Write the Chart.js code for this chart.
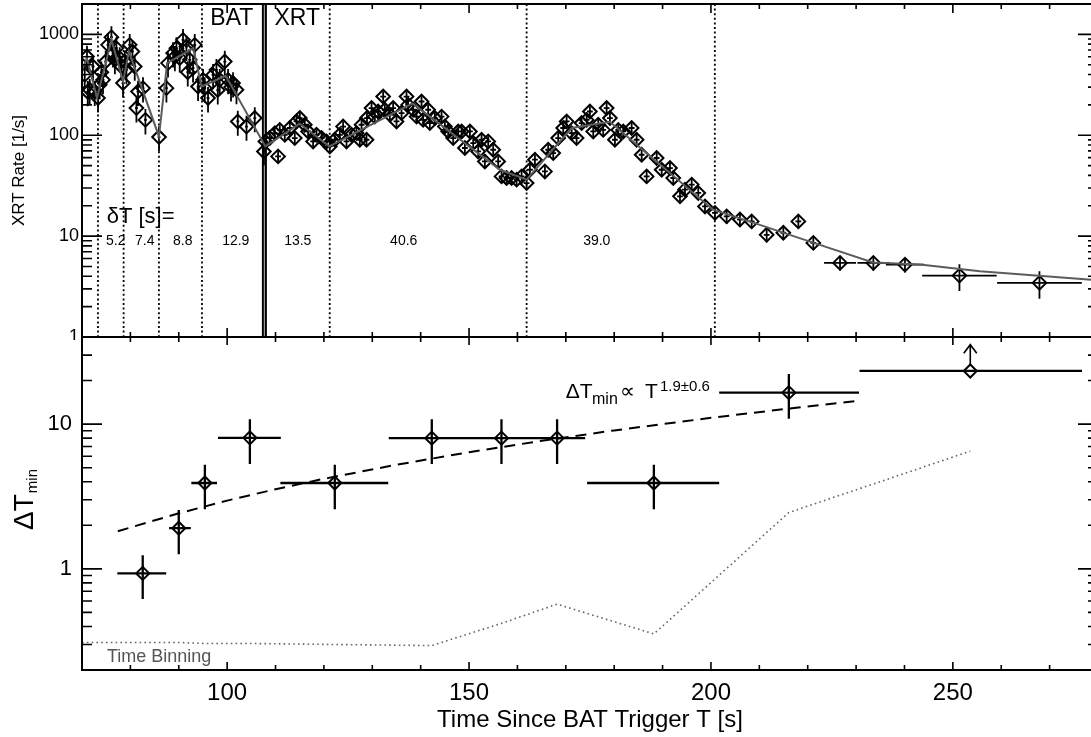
<!DOCTYPE html>
<html><head><meta charset="utf-8">
<script src="https://cdn.jsdelivr.net/npm/chart.js@4.4.1/dist/chart.umd.min.js"></script>
<style>
html,body{margin:0;padding:0;background:#fff;overflow:hidden;width:1091px;height:737px;}
#wrap{position:relative;width:1091px;height:737px;overflow:hidden;background:#fff;}
canvas{position:absolute;left:0;}
#c1{top:0}
#c2{top:330px}
</style></head><body>
<div id="wrap">
<canvas id="c1" width="1100" height="340" style="width:1100px;height:340px"></canvas>
<canvas id="c2" width="1100" height="407" style="width:1100px;height:407px"></canvas>
</div>
<script>
// ---------------- DATA ----------------
// Top panel: XRT/BAT light curve (T [s], rate [1/s], 1-sigma error)
const batT = [70.56,71.03,71.18,71.59,72.27,72.63,73.31,73.66,74.0,74.34,74.9,75.38,76.08,76.41,76.8,77.11,77.8,78.15,78.48,78.83,79.18,79.86,80.42,80.9,81.25,81.58,82.61,83.11,85.92,87.45,87.78,88.82,89.2,89.52,90.2,90.88,91.59,91.86,92.27,92.95,93.3,93.99,95.02,95.37,96.05,97.09,97.79,98.06,98.47,99.51,100.19,100.8,101.22,101.93,102.2,104.0,105.71,107.6];
const batRate = [397,603,269,282,480,271,234,316,420,354,538,787,938,652,560,730,581,480,329,538,445,787,676,480,186,271,293,142,96,293,519,652,600,730,581,882,757,422,559,463,787,304,354,293,234,397,445,280,354,538,354,300,329,282,137,122,148,69];
const batErr = [111,169,75,79,134,76,66,88,118,99,151,220,263,183,157,204,163,134,92,151,125,220,189,134,52,76,82,40,27,82,145,183,168,204,163,247,212,118,157,130,220,85,99,82,66,111,125,78,99,151,99,84,92,79,38,34,41,19];
const batHalfBin = 0.3;

const xrtT = [107.9,108.81,109.85,110.53,110.88,111.91,112.95,113.98,114.33,115.02,116.05,116.73,117.77,118.47,119.51,120.54,121.22,122.26,123.29,123.97,124.67,125.71,126.74,127.42,127.78,128.81,128.9,129.85,130.53,131.21,132.25,132.6,133.63,134.31,135.01,136.05,137.08,137.41,138.45,139.15,140.18,140.51,141.55,141.9,142.93,144.32,145.0,145.69,146.72,147.76,148.46,149.14,150.18,150.86,151.89,152.59,153.27,153.96,154.99,156.02,156.72,157.76,158.79,159.83,160.86,161.9,162.58,163.62,165.68,166.36,167.4,168.43,169.46,170.17,171.2,172.23,173.27,174.3,174.98,175.67,176.7,177.73,178.44,179.12,180.15,180.84,181.87,183.61,184.64,185.68,186.71,188.78,189.82,191.53,192.21,193.6,194.63,196.02,197.38,198.77,200.83,203.25,205.99,208.42,211.52,214.96,218.06,221.16];
const xrtRate = [86.8,93.8,105,61.7,113,101,118,93.8,137,148,127,109,86.8,101,93.8,86.8,77.5,90.2,101,122,86.8,101,105,90.2,127,90.2,148,186,153,172,242,179,160,186,137,166,242,200,179,153,216,142,179,132,148,153,122,109,93.8,109,109,74.7,109,83.7,69.1,90.2,55,86.8,71.8,55,39.1,37.7,37.7,36.3,39.1,33.6,45.5,57.2,43.8,71.8,66.6,93.8,118,137,105,93.8,132,142,172,109,127,113,186,148,90.2,113,109,118,90.2,64.1,39.1,59.5,45.5,47.3,37.7,24.8,28.9,32.4,26.8,19.7,17.0,15.7,14.6,14.0,10.3,10.8,14.0,8.57];
const xrtErr = [11,12,14,8,15,13,15,12,18,19,17,14,11,13,12,11,10,12,13,16,11,13,14,12,17,12,19,24,20,22,31,23,21,24,18,22,31,26,23,20,28,18,23,17,19,20,16,14,12,14,14,10,14,11,9,12,7,11,9,7,5,5,5,5,5,4.4,6,7,6,9,9,12,15,18,14,12,17,18,22,14,17,15,24,19,12,15,14,15,12,8,5,8,6,6,5,3.5,4,4.5,3.8,3,2.6,2.4,2.2,2.1,1.6,1.6,2.1,1.3];
const xrtHalfBin = 0.6;

const lateT = [226.68,233.57,240.1,251.36,267.9];
const lateRate = [5.43,5.43,5.22,4.06,3.44];
const lateErr = [0.9,0.9,0.85,1.2,1.05];
const lateTErr = [3.3,3.3,3.95,7.7,8.75];

// grey multi-pulse model curve
const modelT = [70,71.0,73.1,76.1,78.5,79.7,85.9,87.6,93.0,94.7,99.7,107.9,115.0,121.1,138.3,156.4,161.9,171.2,179.1,200.4,208.7,221.1,233.5,243.2,255.6,280];
const modelRate = [445,581,234,882,341,675,97.3,519,730,304,388,77.5,130,77.5,207,45.5,36.3,118,136,18.3,13.6,8.62,5.47,5.22,4.48,3.66];

// pulse-window boundaries and widths
const deltaLineT = [73.3,78.6,85.9,94.8,121.2,161.9,200.8];
const batXrtT = 107.7;
const deltaLabels = ['5.2','7.4','8.8','12.9','13.5','40.6','39.0'];
const deltaLabelT = [76.97,82.97,90.82,101.78,114.6,136.5,176.4];

const xTicks = [100,150,200,250];
const yTicksTop = [1,10,100,1000];
const yTicksBottom = [1,10];

// Bottom panel: minimum variability time scale
const dtT   = [82.55,90.0,95.4,104.7,122.25,142.3,156.7,168.2,188.2,216.1,253.6];
const dtVal = [0.93,1.91,3.92,8.04,3.92,8.0,8.0,8.0,3.92,16.5,23.3];
const dtLo  = [0.62,1.26,2.58,5.3,2.58,5.3,5.3,5.3,2.58,10.9,null];
const dtHi  = [1.24,2.55,5.23,10.8,5.23,10.8,10.8,10.8,5.23,22.2,null];
const dtTLo = [77.3,88.0,92.6,98.1,111.0,133.4,151.1,162.1,174.4,201.7,230.7];
const dtTHi = [87.4,92.5,97.9,111.1,133.3,151.2,162.1,174.0,201.7,230.6,276.7];
const dtLimitTip = [null,null,null,null,null,null,null,null,null,null,35.4];

const fitT   = [77.4,90,100,110,120,135,150,165,180,200,215,230.6];
const fitVal = [1.82,2.42,2.96,3.55,4.19,5.24,6.40,7.67,9.05,11.05,12.68,14.49];

const binT   = [70,82.55,90,95.4,104.7,122.25,142.3,156.7,168.2,188.2,216.1,253.6];
const binVal = [0.31,0.31,0.31,0.305,0.305,0.30,0.295,0.42,0.57,0.355,2.45,6.5];

// ---------------- HELPERS ----------------
const FONT = '"Liberation Sans", Arial, Helvetica, sans-serif';
const xy = (xs, ys) => xs.map((t, i) => ({x: t, y: ys[i]}));
const noPad = s => { s.paddingTop = 0; s.paddingBottom = 0; s.paddingLeft = 0; s.paddingRight = 0; };

function drawFrame(chart, yMaj, yMin, xMaj, xMin) {
  const {ctx, chartArea: a, scales: {x, y}} = chart;
  ctx.save();
  ctx.strokeStyle = '#000';
  ctx.lineWidth = 1.6;
  ctx.beginPath();
  const lo = Math.floor(Math.log10(y.min)), hi = Math.ceil(Math.log10(y.max));
  for (let d = lo; d <= hi; d++) {
    for (let m = 1; m <= 9; m++) {
      const v = m * Math.pow(10, d);
      if (v < y.min * 0.9999 || v > y.max * 1.0001) continue;
      const py = y.getPixelForValue(v);
      const L = m === 1 ? yMaj : yMin;
      ctx.moveTo(a.left, py); ctx.lineTo(a.left + L, py);
      ctx.moveTo(a.right, py); ctx.lineTo(a.right - L, py);
    }
  }
  for (let v = Math.ceil(x.min / 10) * 10; v <= x.max; v += 10) {
    const px = x.getPixelForValue(v);
    const L = v % 50 === 0 ? xMaj : xMin;
    ctx.moveTo(px, a.bottom); ctx.lineTo(px, a.bottom - L);
    ctx.moveTo(px, a.top); ctx.lineTo(px, a.top + L);
  }
  ctx.stroke();
  ctx.lineWidth = 2;
  ctx.strokeRect(a.left, a.top, a.right - a.left, a.bottom - a.top);
  ctx.restore();
}

function drawErrors(chart, items, lw) {
  const {ctx, chartArea: a, scales: {x, y}} = chart;
  ctx.save();
  ctx.beginPath(); ctx.rect(a.left, a.top, a.right - a.left, a.bottom - a.top); ctx.clip();
  ctx.strokeStyle = '#000'; ctx.lineWidth = lw;
  ctx.beginPath();
  for (const e of items) {
    const px = x.getPixelForValue(e.x), py = y.getPixelForValue(e.y);
    if (e.yLo != null && e.yHi != null) {
      ctx.moveTo(px, y.getPixelForValue(Math.max(e.yLo, y.min * 0.5)));
      ctx.lineTo(px, y.getPixelForValue(e.yHi));
    }
    if (e.xLo != null && e.xHi != null) {
      ctx.moveTo(x.getPixelForValue(e.xLo), py);
      ctx.lineTo(x.getPixelForValue(e.xHi), py);
    }
  }
  ctx.stroke();
  ctx.restore();
}

// ---------------- TOP PANEL ----------------
const topItems = [];
batT.forEach((t, i) => topItems.push({x: t, y: batRate[i], yLo: batRate[i] - batErr[i], yHi: batRate[i] + batErr[i], xLo: t - batHalfBin, xHi: t + batHalfBin}));
xrtT.forEach((t, i) => topItems.push({x: t, y: xrtRate[i], yLo: xrtRate[i] - xrtErr[i], yHi: xrtRate[i] + xrtErr[i], xLo: t - xrtHalfBin, xHi: t + xrtHalfBin}));
lateT.forEach((t, i) => topItems.push({x: t, y: lateRate[i], yLo: lateRate[i] - lateErr[i], yHi: lateRate[i] + lateErr[i], xLo: t - lateTErr[i], xHi: t + lateTErr[i]}));
const topPoints = topItems.map(e => ({x: e.x, y: e.y}));

const topPlugin = {
  id: 'topDecor',
  beforeDatasetsDraw(chart) {
    const {ctx, chartArea: a, scales: {x}} = chart;
    ctx.save();
    ctx.strokeStyle = '#000'; ctx.lineWidth = 1.8; ctx.setLineDash([2, 2.6]);
    ctx.beginPath();
    deltaLineT.forEach(t => { const px = x.getPixelForValue(t); ctx.moveTo(px, a.top); ctx.lineTo(px, a.bottom); });
    ctx.stroke();
    ctx.setLineDash([]);
    const bx = x.getPixelForValue(batXrtT);
    ctx.lineWidth = 5; ctx.strokeStyle = '#000';
    ctx.beginPath(); ctx.moveTo(bx, a.top); ctx.lineTo(bx, a.bottom); ctx.stroke();
    ctx.lineWidth = 1.2; ctx.strokeStyle = '#9a9a9a';
    ctx.beginPath(); ctx.moveTo(bx, a.top); ctx.lineTo(bx, a.bottom); ctx.stroke();
    ctx.restore();
    drawErrors(chart, topItems, 1.8);
  },
  afterDatasetsDraw(chart) {
    const {ctx, scales: {x}} = chart;
    drawFrame(chart, 20, 10, 9, 5);
    ctx.save();
    ctx.fillStyle = '#000';
    ctx.textBaseline = 'alphabetic';
    const bx = x.getPixelForValue(batXrtT);
    ctx.font = `23px ${FONT}`;
    ctx.textAlign = 'right'; ctx.fillText('BAT', bx - 11, 25);
    ctx.textAlign = 'left'; ctx.fillText('XRT', bx + 10, 25);
    ctx.font = `22px ${FONT}`;
    ctx.fillText('δT [s]=', 106.7, 222.7);
    ctx.font = `14px ${FONT}`;
    ctx.textAlign = 'center';
    deltaLabels.forEach((s, i) => ctx.fillText(s, x.getPixelForValue(deltaLabelT[i]), 245));
    ctx.restore();
  }
};

new Chart(document.getElementById('c1'), {
  type: 'scatter',
  data: {datasets: [
    {label: 'Model', data: xy(modelT, modelRate), showLine: true, borderColor: '#5c5c5c', borderWidth: 2, pointRadius: 0, order: 0},
    {label: 'XRT Rate', data: topPoints, pointStyle: 'rectRot', pointRadius: 6.8, pointHoverRadius: 6.8,
     borderColor: '#000', backgroundColor: 'rgba(0,0,0,0)', borderWidth: 2, order: 1}
  ]},
  options: {
    responsive: false, animation: false, devicePixelRatio: 1,
    layout: {autoPadding: false, padding: {left: 0, top: 4, right: 2, bottom: 3}},
    plugins: {legend: {display: false}, tooltip: {enabled: false}},
    scales: {
      x: {type: 'linear', min: 70, max: 280, display: false, afterFit: noPad},
      y: {type: 'logarithmic', min: 1, max: 2000,
          grid: {display: false, drawTicks: false}, border: {display: false},
          afterBuildTicks: s => { s.ticks = yTicksTop.map(v => ({value: v})); },
          afterFit: s => { s.width = 82; noPad(s); },
          ticks: {font: {family: FONT, size: 18}, color: '#000', padding: 3, autoSkip: false, callback: v => String(v)},
          title: {display: true, text: 'XRT Rate [1/s]', font: {family: FONT, size: 17}, color: '#000', padding: {top: 9, bottom: 0}}
      }
    }
  },
  plugins: [topPlugin]
});

// ---------------- BOTTOM PANEL ----------------
const botItems = dtT.map((t, i) => ({x: t, y: dtVal[i], yLo: dtLo[i], yHi: dtHi[i], xLo: dtTLo[i], xHi: dtTHi[i]}));

const botPlugin = {
  id: 'botDecor',
  beforeDatasetsDraw(chart) {
    drawErrors(chart, botItems, 2.3);
    const {ctx, scales: {x, y}} = chart;
    ctx.save();
    ctx.strokeStyle = '#000'; ctx.lineWidth = 1.6;
    dtT.forEach((t, i) => {
      if (dtLimitTip[i] == null) return;
      const px = x.getPixelForValue(t), py0 = y.getPixelForValue(dtVal[i]), py1 = y.getPixelForValue(dtLimitTip[i]);
      ctx.beginPath();
      ctx.moveTo(px, py0 - 6); ctx.lineTo(px, py1);
      ctx.moveTo(px - 6.5, py1 + 8.5); ctx.lineTo(px, py1); ctx.lineTo(px + 6.5, py1 + 8.5);
      ctx.stroke();
    });
    ctx.restore();
  },
  afterDatasetsDraw(chart) {
    const {ctx} = chart;
    drawFrame(chart, 20, 10, 8, 5);
    ctx.save();
    ctx.fillStyle = '#000';
    ctx.textBaseline = 'alphabetic';
    ctx.save();
    ctx.translate(33, 200);
    ctx.rotate(-Math.PI / 2);
    ctx.textAlign = 'left';
    ctx.font = `28px ${FONT}`;
    ctx.fillText('ΔT', 0, 0);
    const w = ctx.measureText('ΔT').width;
    ctx.font = `15px ${FONT}`;
    ctx.fillText('min', w + 1, 4);
    ctx.restore();
    ctx.textAlign = 'left';
    ctx.font = `21px ${FONT}`;
    ctx.fillText('ΔT', 565.7, 68.3);
    ctx.font = `16px ${FONT}`;
    ctx.fillText('min', 592, 74);
    ctx.font = `21px "DejaVu Sans", ${FONT}`;
    ctx.fillText('∝', 620, 68.3);
    ctx.font = `21px ${FONT}`;
    ctx.fillText('T', 645, 68.3);
    ctx.font = `15px ${FONT}`;
    ctx.fillText('1.9±0.6', 660, 61);
    ctx.fillStyle = '#555';
    ctx.font = `18px ${FONT}`;
    ctx.fillText('Time Binning', 107, 331.7);
    ctx.restore();
  }
};

new Chart(document.getElementById('c2'), {
  type: 'scatter',
  data: {datasets: [
    {label: 'ΔT_min', data: xy(dtT, dtVal), pointStyle: 'rectRot', pointRadius: 6.5, pointHoverRadius: 6.5,
     borderColor: '#000', backgroundColor: 'rgba(0,0,0,0)', borderWidth: 2, order: 0},
    {label: 'Power law fit', data: xy(fitT, fitVal), showLine: true, borderColor: '#000', borderWidth: 2,
     borderDash: [11, 7], pointRadius: 0, order: 1},
    {label: 'Time Binning', data: xy(binT, binVal), showLine: true, borderColor: '#666', borderWidth: 1.6,
     borderDash: [1.6, 3.2], pointRadius: 0, order: 2}
  ]},
  options: {
    responsive: false, animation: false, devicePixelRatio: 1,
    layout: {autoPadding: false, padding: {left: 0, top: 7, right: 2, bottom: 0}},
    plugins: {legend: {display: false}, tooltip: {enabled: false}},
    scales: {
      x: {type: 'linear', min: 70, max: 280,
          grid: {display: false, drawTicks: false}, border: {display: false},
          afterBuildTicks: s => { s.ticks = xTicks.map(v => ({value: v})); },
          afterFit: s => { s.height = 67; noPad(s); },
          ticks: {font: {family: FONT, size: 24}, color: '#000', padding: 9, maxRotation: 0, autoSkip: false, callback: v => String(v)},
          title: {display: true, text: 'Time Since BAT Trigger T [s]', font: {family: FONT, size: 24}, color: '#000', padding: {top: 0, bottom: 2}}
      },
      y: {type: 'logarithmic', min: 0.2, max: 40,
          grid: {display: false, drawTicks: false}, border: {display: false},
          afterBuildTicks: s => { s.ticks = yTicksBottom.map(v => ({value: v})); },
          afterFit: s => { s.width = 82; noPad(s); },
          ticks: {font: {family: FONT, size: 22}, color: '#000', padding: 10, autoSkip: false, callback: v => String(v)}
      }
    }
  },
  plugins: [botPlugin]
});
</script>
</body></html>
